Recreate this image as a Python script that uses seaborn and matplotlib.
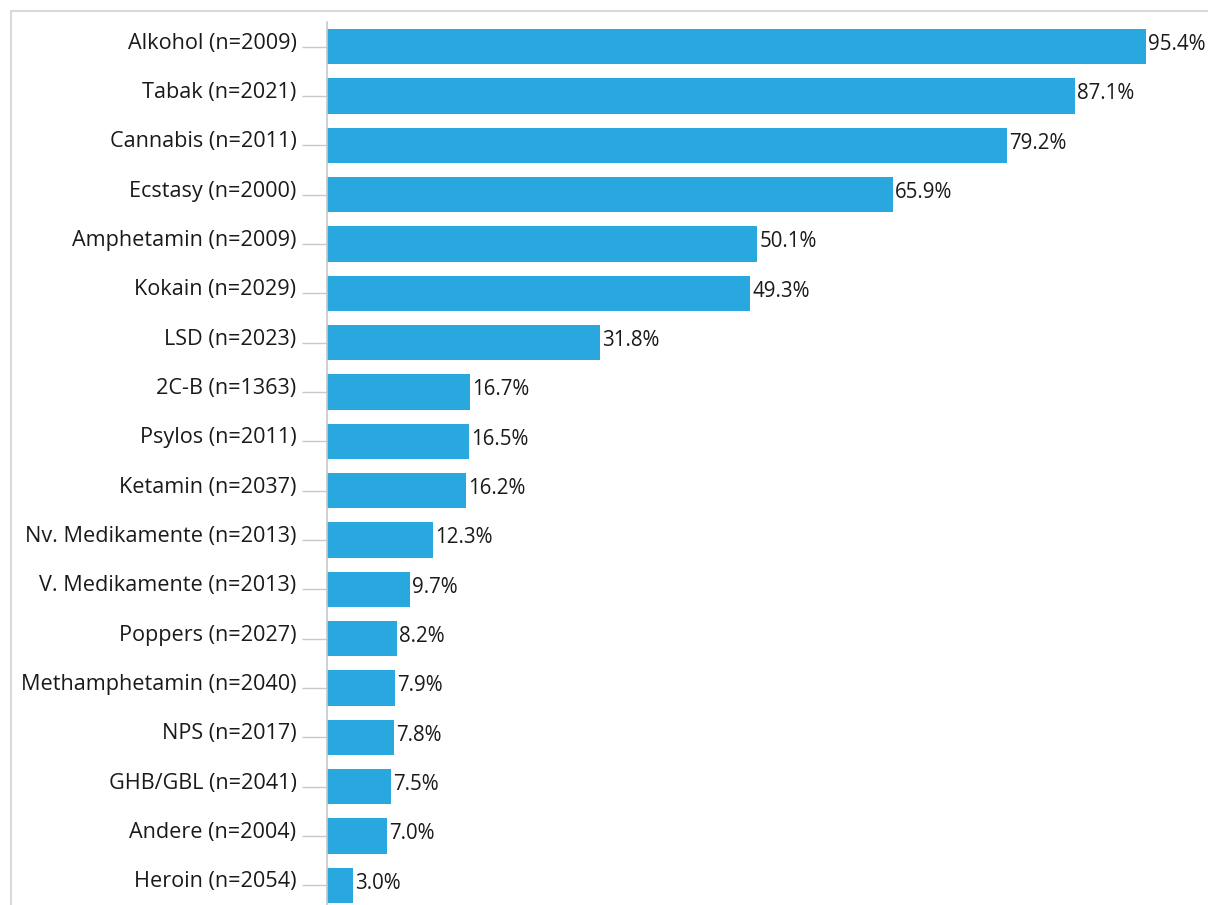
import matplotlib
matplotlib.use("Agg")
import matplotlib.pyplot as plt
import matplotlib.transforms as mtransforms
import seaborn as sns
import pandas as pd

categories = ["Alkohol (n=2009)", "Tabak (n=2021)", "Cannabis (n=2011)", "Ecstasy (n=2000)",
              "Amphetamin (n=2009)", "Kokain (n=2029)", "LSD (n=2023)", "2C-B (n=1363)",
              "Psylos (n=2011)", "Ketamin (n=2037)", "Nv. Medikamente (n=2013)",
              "V. Medikamente (n=2013)", "Poppers (n=2027)", "Methamphetamin (n=2040)",
              "NPS (n=2017)", "GHB/GBL (n=2041)", "Andere (n=2004)", "Heroin (n=2054)"]
values = [95.4, 87.1, 79.2, 65.9, 50.1, 49.3, 31.8, 16.7, 16.5, 16.2, 12.3, 9.7, 8.2, 7.9, 7.8, 7.5, 7.0, 3.0]
value_labels = ["95.4%", "87.1%", "79.2%", "65.9%", "50.1%", "49.3%", "31.8%", "16.7%", "16.5%",
                "16.2%", "12.3%", "9.7%", "8.2%", "7.9%", "7.8%", "7.5%", "7.0%", "3.0%"]

df = pd.DataFrame({"cat": categories, "val": values})

sns.set_style("white")
plt.rcParams["font.family"] = ["Open Sans", "DejaVu Sans"]

W, H = 1208, 905
fig = plt.figure(figsize=(W / 100, H / 100), dpi=100)

# outer frame lines (top and left)
fig.add_artist(plt.Line2D([11 / W, 1], [1 - 11 / H, 1 - 11 / H], color="#d9d9d9", lw=1.5))
fig.add_artist(plt.Line2D([11 / W, 11 / W], [0, 1 - 11 / H], color="#d9d9d9", lw=1.5))

ax = fig.add_axes([327 / W, 0, 1 - 327 / W, (905 - 22) / H])
sns.barplot(data=df, y="cat", x="val", orient="h", color="#29a8e0", saturation=1,
            width=0.72, linewidth=0, ax=ax)

ax.set_xlim(0, 881 / 8.585)
ax.set_ylim(17.4, -0.5)
ax.set_xlabel("")
ax.set_ylabel("")
ax.set_xticks([])

for s in ["top", "right", "bottom"]:
    ax.spines[s].set_visible(False)
ax.spines["left"].set_color("#c8c8c8")
ax.spines["left"].set_linewidth(1.2)

ax.tick_params(axis="y", length=18, width=1, color="#c8c8c8", pad=4,
               labelsize=15.6, labelcolor="#1a1a1a", left=True)
offset = mtransforms.ScaledTranslation(0, 6 / 100, fig.dpi_scale_trans)
for lab in ax.get_yticklabels():
    lab.set_transform(lab.get_transform() + offset)

for i, (v, t) in enumerate(zip(values, value_labels)):
    ax.annotate(t, xy=(v, i), xytext=(1.5, 1.5), textcoords="offset points",
                ha="left", va="center", fontsize=14.8, color="#1a1a1a")

fig.savefig("out.png", dpi=100)
